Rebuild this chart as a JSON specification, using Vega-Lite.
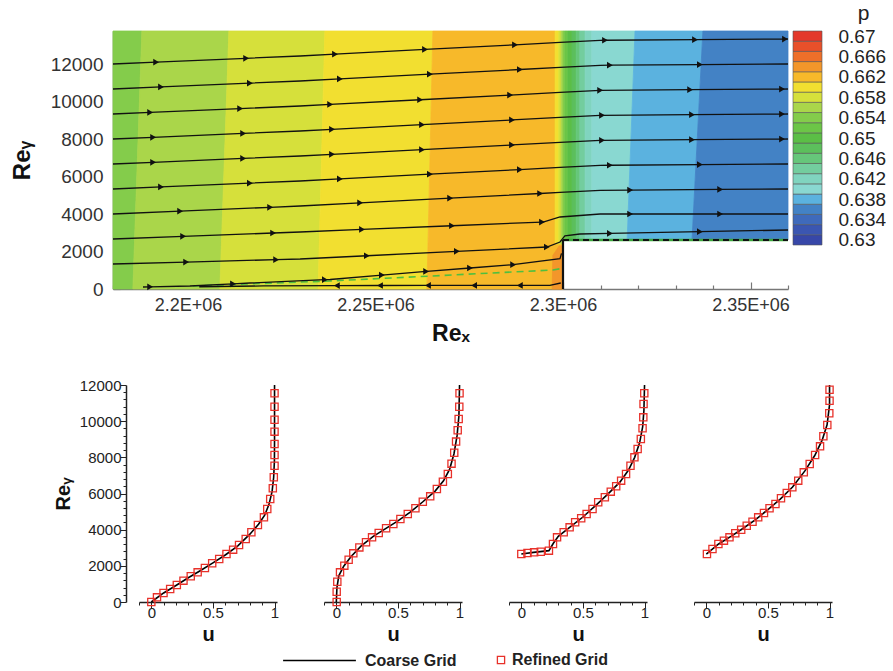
{
"$schema": "https://vega.github.io/schema/vega-lite/v6.json",
"padding": {"left": 10, "top": 2, "right": 0, "bottom": 0},
"config": {"font": "Liberation Sans", "view": {"stroke": null}, "axis": {"labelFont": "Liberation Sans", "titleFont": "Liberation Sans", "labelOverlap": false, "labelFlush": false, "grid": false}, "legend": {"labelFont": "Liberation Sans"}},
"datasets": {
"bands": [
{"b":"b1","lv":0.654,"y":0,"xl":2180000,"xr":2185300},{"b":"b1","lv":0.654,"y":13760,"xl":2180000,"xr":2187700},
{"b":"b2","lv":0.656,"y":0,"xl":2185300,"xr":2208500},{"b":"b2","lv":0.656,"y":13760,"xl":2187700,"xr":2210900},
{"b":"b3","lv":0.658,"y":0,"xl":2208500,"xr":2234700},{"b":"b3","lv":0.658,"y":13760,"xl":2210900,"xr":2236500},
{"b":"b4","lv":0.66,"y":0,"xl":2234700,"xr":2263700},{"b":"b4","lv":0.66,"y":13760,"xl":2236500,"xr":2265300},
{"b":"b5","lv":0.662,"y":0,"xl":2263700,"xr":2300000},{"b":"b5","lv":0.662,"y":2400,"xl":2264000,"xr":2300000},{"b":"b5","lv":0.662,"y":2401,"xl":2264000,"xr":2297900},{"b":"b5","lv":0.662,"y":13760,"xl":2265300,"xr":2297900},
{"b":"b6","lv":0.664,"y":0,"xl":2297100,"xr":2300000},{"b":"b6","lv":0.664,"y":1800,"xl":2297300,"xr":2300000},{"b":"b6","lv":0.664,"y":2300,"xl":2299000,"xr":2300000},
{"b":"t1","lv":0.66,"y":2400,"xl":2297900,"xr":2298900},{"b":"t1","lv":0.66,"y":13760,"xl":2297900,"xr":2298900},
{"b":"t2","lv":0.658,"y":2400,"xl":2298900,"xr":2299500},{"b":"t2","lv":0.658,"y":13760,"xl":2298900,"xr":2299500},
{"b":"t3","lv":0.656,"y":2400,"xl":2299500,"xr":2300000},{"b":"t3","lv":0.656,"y":13760,"xl":2299500,"xr":2300000},
{"b":"t4","lv":0.654,"y":2613,"xl":2300000,"xr":2300500},{"b":"t4","lv":0.654,"y":13760,"xl":2300000,"xr":2300500},
{"b":"t5","lv":0.652,"y":2613,"xl":2300500,"xr":2301300},{"b":"t5","lv":0.652,"y":13760,"xl":2300500,"xr":2301300},
{"b":"t6","lv":0.65,"y":2613,"xl":2301300,"xr":2302400},{"b":"t6","lv":0.65,"y":13760,"xl":2301300,"xr":2302400},
{"b":"t7","lv":0.648,"y":2613,"xl":2302400,"xr":2303500},{"b":"t7","lv":0.648,"y":13760,"xl":2302400,"xr":2303500},
{"b":"t8","lv":0.646,"y":2613,"xl":2303500,"xr":2304500},{"b":"t8","lv":0.646,"y":13760,"xl":2303500,"xr":2304500},
{"b":"t9","lv":0.644,"y":2613,"xl":2304500,"xr":2305900},{"b":"t9","lv":0.644,"y":13760,"xl":2304500,"xr":2305900},
{"b":"t10","lv":0.642,"y":2613,"xl":2305900,"xr":2307700},{"b":"t10","lv":0.642,"y":13760,"xl":2305900,"xr":2307700},
{"b":"r1","lv":0.64,"y":2613,"xl":2307700,"xr":2317100},{"b":"r1","lv":0.64,"y":13760,"xl":2307700,"xr":2319200},
{"b":"r2","lv":0.638,"y":2613,"xl":2317100,"xr":2334400},{"b":"r2","lv":0.638,"y":13760,"xl":2319200,"xr":2337300},
{"b":"r3","lv":0.636,"y":2613,"xl":2334400,"xr":2360000},{"b":"r3","lv":0.636,"y":13760,"xl":2337300,"xr":2360000}
],
"cbar": [
{"lv":0.63,"lo":0.629,"hi":0.631},{"lv":0.632,"lo":0.631,"hi":0.633},{"lv":0.634,"lo":0.633,"hi":0.635},{"lv":0.636,"lo":0.635,"hi":0.637},{"lv":0.638,"lo":0.637,"hi":0.639},{"lv":0.64,"lo":0.639,"hi":0.641},{"lv":0.642,"lo":0.641,"hi":0.643},{"lv":0.644,"lo":0.643,"hi":0.645},{"lv":0.646,"lo":0.645,"hi":0.647},{"lv":0.648,"lo":0.647,"hi":0.649},{"lv":0.65,"lo":0.649,"hi":0.651},{"lv":0.652,"lo":0.651,"hi":0.653},{"lv":0.654,"lo":0.653,"hi":0.655},{"lv":0.656,"lo":0.655,"hi":0.657},{"lv":0.658,"lo":0.657,"hi":0.659},{"lv":0.66,"lo":0.659,"hi":0.661},{"lv":0.662,"lo":0.661,"hi":0.663},{"lv":0.664,"lo":0.663,"hi":0.665},{"lv":0.666,"lo":0.665,"hi":0.667},{"lv":0.668,"lo":0.667,"hi":0.669},{"lv":0.67,"lo":0.669,"hi":0.671}
],
"zl": [{"x":2201300,"y":160},{"x":2237900,"y":427},{"x":2297300,"y":1013},{"x":2299300,"y":1080}],
"step": [{"k":"w","x":2300000,"x2":2300000,"y":0,"y2":2613},{"k":"t","x":2300000,"x2":2360000,"y":2613,"y2":2613}],
"sl": [
{"s":1,"x":2180000,"y":12000},{"s":1,"x":2191500,"y":12098,"a":1,"d":"f"},{"s":1,"x":2215500,"y":12304,"a":1,"d":"f"},{"s":1,"x":2229900,"y":12427},{"s":1,"x":2239200,"y":12524,"a":1,"d":"f"},{"s":1,"x":2263200,"y":12775,"a":1,"d":"f"},{"s":1,"x":2287200,"y":13025,"a":1,"d":"f"},{"s":1,"x":2299200,"y":13150},{"s":1,"x":2309900,"y":13264},{"s":1,"x":2311200,"y":13266,"a":1,"d":"f"},{"s":1,"x":2335200,"y":13299,"a":1,"d":"f"},{"s":1,"x":2359200,"y":13332,"a":1,"d":"f"},{"s":1,"x":2360000,"y":13333},
{"s":2,"x":2180000,"y":10667},{"s":2,"x":2192800,"y":10777,"a":1,"d":"f"},{"s":2,"x":2216500,"y":10980,"a":1,"d":"f"},{"s":2,"x":2229900,"y":11094},{"s":2,"x":2240500,"y":11205,"a":1,"d":"f"},{"s":2,"x":2264500,"y":11456,"a":1,"d":"f"},{"s":2,"x":2288500,"y":11706,"a":1,"d":"f"},{"s":2,"x":2299200,"y":11817},{"s":2,"x":2309900,"y":11931},{"s":2,"x":2312500,"y":11935,"a":1,"d":"f"},{"s":2,"x":2336500,"y":11968,"a":1,"d":"f"},{"s":2,"x":2360000,"y":12000},
{"s":3,"x":2180000,"y":9333},{"s":3,"x":2189900,"y":9417,"a":1,"d":"f"},{"s":3,"x":2213900,"y":9623,"a":1,"d":"f"},{"s":3,"x":2229900,"y":9760},{"s":3,"x":2237900,"y":9843,"a":1,"d":"f"},{"s":3,"x":2261900,"y":10094,"a":1,"d":"f"},{"s":3,"x":2285900,"y":10344,"a":1,"d":"f"},{"s":3,"x":2299200,"y":10483},{"s":3,"x":2309900,"y":10597,"a":1,"d":"f"},{"s":3,"x":2333900,"y":10630,"a":1,"d":"f"},{"s":3,"x":2358400,"y":10664,"a":1,"d":"f"},{"s":3,"x":2360000,"y":10666},
{"s":4,"x":2180000,"y":8000},{"s":4,"x":2190700,"y":8091,"a":1,"d":"f"},{"s":4,"x":2214700,"y":8297,"a":1,"d":"f"},{"s":4,"x":2229900,"y":8427},{"s":4,"x":2238400,"y":8516,"a":1,"d":"f"},{"s":4,"x":2262400,"y":8766,"a":1,"d":"f"},{"s":4,"x":2286400,"y":9017,"a":1,"d":"f"},{"s":4,"x":2299200,"y":9150},{"s":4,"x":2309900,"y":9264},{"s":4,"x":2310400,"y":9265,"a":1,"d":"f"},{"s":4,"x":2334400,"y":9298,"a":1,"d":"f"},{"s":4,"x":2358400,"y":9331,"a":1,"d":"f"},{"s":4,"x":2360000,"y":9333},
{"s":5,"x":2180000,"y":6667},{"s":5,"x":2190700,"y":6758,"a":1,"d":"f"},{"s":5,"x":2214700,"y":6964,"a":1,"d":"f"},{"s":5,"x":2229900,"y":7094},{"s":5,"x":2238400,"y":7183,"a":1,"d":"f"},{"s":5,"x":2262400,"y":7433,"a":1,"d":"f"},{"s":5,"x":2286400,"y":7684,"a":1,"d":"f"},{"s":5,"x":2299200,"y":7817},{"s":5,"x":2309900,"y":7931},{"s":5,"x":2310400,"y":7932,"a":1,"d":"f"},{"s":5,"x":2334400,"y":7965,"a":1,"d":"f"},{"s":5,"x":2358400,"y":7998,"a":1,"d":"f"},{"s":5,"x":2360000,"y":8000},
{"s":6,"x":2180000,"y":5333},{"s":6,"x":2192800,"y":5443,"a":1,"d":"f"},{"s":6,"x":2216500,"y":5646,"a":1,"d":"f"},{"s":6,"x":2229900,"y":5760},{"s":6,"x":2240500,"y":5871,"a":1,"d":"f"},{"s":6,"x":2264500,"y":6122,"a":1,"d":"f"},{"s":6,"x":2288500,"y":6372,"a":1,"d":"f"},{"s":6,"x":2299200,"y":6483},{"s":6,"x":2309900,"y":6597},{"s":6,"x":2312500,"y":6601,"a":1,"d":"f"},{"s":6,"x":2336500,"y":6634,"a":1,"d":"f"},{"s":6,"x":2360000,"y":6666},
{"s":7,"x":2180000,"y":4000},{"s":7,"x":2197900,"y":4153,"a":1,"d":"f"},{"s":7,"x":2221900,"y":4358,"a":1,"d":"f"},{"s":7,"x":2229900,"y":4427},{"s":7,"x":2245900,"y":4594,"a":1,"d":"f"},{"s":7,"x":2269900,"y":4844,"a":1,"d":"f"},{"s":7,"x":2293900,"y":5094,"a":1,"d":"f"},{"s":7,"x":2299200,"y":5150},{"s":7,"x":2309900,"y":5264},{"s":7,"x":2317900,"y":5275,"a":1,"d":"f"},{"s":7,"x":2341900,"y":5308,"a":1,"d":"f"},{"s":7,"x":2360000,"y":5333},
{"s":8,"x":2180000,"y":2667},{"s":8,"x":2198700,"y":2807,"a":1,"d":"f"},{"s":8,"x":2222700,"y":2986,"a":1,"d":"f"},{"s":8,"x":2229900,"y":3040},{"s":8,"x":2246400,"y":3176,"a":1,"d":"f"},{"s":8,"x":2270400,"y":3373,"a":1,"d":"f"},{"s":8,"x":2294400,"y":3571,"a":1,"d":"f"},{"s":8,"x":2294700,"y":3573},{"s":8,"x":2299200,"y":3840},{"s":8,"x":2309900,"y":4000},{"s":8,"x":2317900,"y":4000,"a":1,"d":"f"},{"s":8,"x":2341900,"y":4000,"a":1,"d":"f"},{"s":8,"x":2360000,"y":4000},
{"s":9,"x":2180000,"y":1333},{"s":9,"x":2199500,"y":1437,"a":1,"d":"f"},{"s":9,"x":2223500,"y":1566,"a":1,"d":"f"},{"s":9,"x":2229900,"y":1600},{"s":9,"x":2247700,"y":1774,"a":1,"d":"f"},{"s":9,"x":2271700,"y":2007,"a":1,"d":"f"},{"s":9,"x":2295700,"y":2240,"a":1,"d":"f"},{"s":9,"x":2299200,"y":2507},{"s":9,"x":2300500,"y":2830},{"s":9,"x":2304500,"y":2933},{"s":9,"x":2312500,"y":2964,"a":1,"d":"f"},{"s":9,"x":2336500,"y":3056,"a":1,"d":"f"},{"s":9,"x":2360000,"y":3147},
{"s":10,"x":2188000,"y":107},{"s":10,"x":2189900,"y":115,"a":1,"d":"f"},{"s":10,"x":2200500,"y":160},{"s":10,"x":2212000,"y":275,"a":1,"d":"f"},{"s":10,"x":2216500,"y":320},{"s":10,"x":2236500,"y":495,"a":1,"d":"f"},{"s":10,"x":2237900,"y":507},{"s":10,"x":2251700,"y":741,"a":1,"d":"f"},{"s":10,"x":2263500,"y":940,"a":1,"d":"f"},{"s":10,"x":2263700,"y":944},{"s":10,"x":2275200,"y":1120,"a":1,"d":"f"},{"s":10,"x":2286700,"y":1296,"a":1,"d":"f"},{"s":10,"x":2299200,"y":1616},{"s":10,"x":2299600,"y":1900},
{"s":11,"x":2203000,"y":120},{"s":11,"x":2220000,"y":165},{"s":11,"x":2239700,"y":185,"a":1,"d":"r"},{"s":11,"x":2251200,"y":187,"a":1,"d":"r"},{"s":11,"x":2264000,"y":189,"a":1,"d":"r"},{"s":11,"x":2276300,"y":190,"a":1,"d":"r"},{"s":11,"x":2288500,"y":193,"a":1,"d":"r"},{"s":11,"x":2296500,"y":195},{"s":11,"x":2299400,"y":320}
],
"prof": [
{"p":1,"s":"Coarse Grid","u":0,"y":0},{"p":1,"s":"Coarse Grid","u":0.1,"y":500},{"p":1,"s":"Coarse Grid","u":0.2,"y":910},{"p":1,"s":"Coarse Grid","u":0.3,"y":1340},{"p":1,"s":"Coarse Grid","u":0.4,"y":1740},{"p":1,"s":"Coarse Grid","u":0.5,"y":2165},{"p":1,"s":"Coarse Grid","u":0.6,"y":2600},{"p":1,"s":"Coarse Grid","u":0.7,"y":3090},{"p":1,"s":"Coarse Grid","u":0.8,"y":3750},{"p":1,"s":"Coarse Grid","u":0.87,"y":4300},{"p":1,"s":"Coarse Grid","u":0.92,"y":4800},{"p":1,"s":"Coarse Grid","u":0.955,"y":5400},{"p":1,"s":"Coarse Grid","u":0.98,"y":6100},{"p":1,"s":"Coarse Grid","u":0.993,"y":6900},{"p":1,"s":"Coarse Grid","u":0.999,"y":7800},{"p":1,"s":"Coarse Grid","u":1,"y":9000},{"p":1,"s":"Coarse Grid","u":1,"y":12000},
{"p":1,"s":"Refined Grid","u":0,"y":0},{"p":1,"s":"Refined Grid","u":0.046,"y":258},{"p":1,"s":"Refined Grid","u":0.099,"y":498},{"p":1,"s":"Refined Grid","u":0.153,"y":719},{"p":1,"s":"Refined Grid","u":0.207,"y":940},{"p":1,"s":"Refined Grid","u":0.261,"y":1180},{"p":1,"s":"Refined Grid","u":0.32,"y":1420},{"p":1,"s":"Refined Grid","u":0.376,"y":1640},{"p":1,"s":"Refined Grid","u":0.435,"y":1880},{"p":1,"s":"Refined Grid","u":0.494,"y":2140},{"p":1,"s":"Refined Grid","u":0.551,"y":2378},{"p":1,"s":"Refined Grid","u":0.61,"y":2654},{"p":1,"s":"Refined Grid","u":0.664,"y":2894},{"p":1,"s":"Refined Grid","u":0.712,"y":3152},{"p":1,"s":"Refined Grid","u":0.766,"y":3484},{"p":1,"s":"Refined Grid","u":0.812,"y":3853},{"p":1,"s":"Refined Grid","u":0.865,"y":4258},{"p":1,"s":"Refined Grid","u":0.914,"y":4682},{"p":1,"s":"Refined Grid","u":0.941,"y":5143},{"p":1,"s":"Refined Grid","u":0.965,"y":5696},{"p":1,"s":"Refined Grid","u":0.986,"y":6287},{"p":1,"s":"Refined Grid","u":0.994,"y":6895},{"p":1,"s":"Refined Grid","u":1,"y":7537},{"p":1,"s":"Refined Grid","u":1,"y":8129},{"p":1,"s":"Refined Grid","u":1,"y":8737},{"p":1,"s":"Refined Grid","u":1,"y":9420},{"p":1,"s":"Refined Grid","u":1,"y":10082},{"p":1,"s":"Refined Grid","u":1,"y":10800},{"p":1,"s":"Refined Grid","u":1,"y":11540},
{"p":2,"s":"Coarse Grid","u":0,"y":0},{"p":2,"s":"Coarse Grid","u":0.005,"y":800},{"p":2,"s":"Coarse Grid","u":0.02,"y":1450},{"p":2,"s":"Coarse Grid","u":0.06,"y":1980},{"p":2,"s":"Coarse Grid","u":0.12,"y":2520},{"p":2,"s":"Coarse Grid","u":0.2,"y":3090},{"p":2,"s":"Coarse Grid","u":0.3,"y":3630},{"p":2,"s":"Coarse Grid","u":0.4,"y":4060},{"p":2,"s":"Coarse Grid","u":0.5,"y":4490},{"p":2,"s":"Coarse Grid","u":0.6,"y":4970},{"p":2,"s":"Coarse Grid","u":0.7,"y":5530},{"p":2,"s":"Coarse Grid","u":0.8,"y":6120},{"p":2,"s":"Coarse Grid","u":0.87,"y":6700},{"p":2,"s":"Coarse Grid","u":0.92,"y":7350},{"p":2,"s":"Coarse Grid","u":0.955,"y":8200},{"p":2,"s":"Coarse Grid","u":0.98,"y":9200},{"p":2,"s":"Coarse Grid","u":0.995,"y":10300},{"p":2,"s":"Coarse Grid","u":1,"y":12000},
{"p":2,"s":"Refined Grid","u":0.003,"y":0},{"p":2,"s":"Refined Grid","u":0.003,"y":570},{"p":2,"s":"Refined Grid","u":0.008,"y":1120},{"p":2,"s":"Refined Grid","u":0.03,"y":1640},{"p":2,"s":"Refined Grid","u":0.065,"y":2010},{"p":2,"s":"Refined Grid","u":0.1,"y":2340},{"p":2,"s":"Refined Grid","u":0.138,"y":2690},{"p":2,"s":"Refined Grid","u":0.187,"y":3020},{"p":2,"s":"Refined Grid","u":0.241,"y":3300},{"p":2,"s":"Refined Grid","u":0.29,"y":3576},{"p":2,"s":"Refined Grid","u":0.344,"y":3816},{"p":2,"s":"Refined Grid","u":0.404,"y":4074},{"p":2,"s":"Refined Grid","u":0.463,"y":4313},{"p":2,"s":"Refined Grid","u":0.52,"y":4590},{"p":2,"s":"Refined Grid","u":0.58,"y":4866},{"p":2,"s":"Refined Grid","u":0.642,"y":5180},{"p":2,"s":"Refined Grid","u":0.702,"y":5548},{"p":2,"s":"Refined Grid","u":0.762,"y":5843},{"p":2,"s":"Refined Grid","u":0.816,"y":6249},{"p":2,"s":"Refined Grid","u":0.865,"y":6653},{"p":2,"s":"Refined Grid","u":0.905,"y":7078},{"p":2,"s":"Refined Grid","u":0.935,"y":7650},{"p":2,"s":"Refined Grid","u":0.957,"y":8250},{"p":2,"s":"Refined Grid","u":0.972,"y":8870},{"p":2,"s":"Refined Grid","u":0.985,"y":9500},{"p":2,"s":"Refined Grid","u":0.993,"y":10120},{"p":2,"s":"Refined Grid","u":0.998,"y":10800},{"p":2,"s":"Refined Grid","u":1,"y":11540},
{"p":3,"s":"Coarse Grid","u":0,"y":2654},{"p":3,"s":"Coarse Grid","u":0.1,"y":2745},{"p":3,"s":"Coarse Grid","u":0.224,"y":2840},{"p":3,"s":"Coarse Grid","u":0.26,"y":3250},{"p":3,"s":"Coarse Grid","u":0.3,"y":3630},{"p":3,"s":"Coarse Grid","u":0.4,"y":4170},{"p":3,"s":"Coarse Grid","u":0.5,"y":4700},{"p":3,"s":"Coarse Grid","u":0.6,"y":5320},{"p":3,"s":"Coarse Grid","u":0.7,"y":5950},{"p":3,"s":"Coarse Grid","u":0.8,"y":6630},{"p":3,"s":"Coarse Grid","u":0.87,"y":7300},{"p":3,"s":"Coarse Grid","u":0.92,"y":8000},{"p":3,"s":"Coarse Grid","u":0.96,"y":8800},{"p":3,"s":"Coarse Grid","u":0.985,"y":9700},{"p":3,"s":"Coarse Grid","u":0.995,"y":10600},{"p":3,"s":"Coarse Grid","u":1,"y":12000},
{"p":3,"s":"Refined Grid","u":0,"y":2654},{"p":3,"s":"Refined Grid","u":0.05,"y":2710},{"p":3,"s":"Refined Grid","u":0.104,"y":2746},{"p":3,"s":"Refined Grid","u":0.158,"y":2783},{"p":3,"s":"Refined Grid","u":0.224,"y":2839},{"p":3,"s":"Refined Grid","u":0.257,"y":3210},{"p":3,"s":"Refined Grid","u":0.29,"y":3576},{"p":3,"s":"Refined Grid","u":0.344,"y":3853},{"p":3,"s":"Refined Grid","u":0.392,"y":4129},{"p":3,"s":"Refined Grid","u":0.437,"y":4406},{"p":3,"s":"Refined Grid","u":0.486,"y":4627},{"p":3,"s":"Refined Grid","u":0.53,"y":4866},{"p":3,"s":"Refined Grid","u":0.578,"y":5143},{"p":3,"s":"Refined Grid","u":0.624,"y":5512},{"p":3,"s":"Refined Grid","u":0.678,"y":5790},{"p":3,"s":"Refined Grid","u":0.726,"y":6102},{"p":3,"s":"Refined Grid","u":0.77,"y":6400},{"p":3,"s":"Refined Grid","u":0.81,"y":6710},{"p":3,"s":"Refined Grid","u":0.85,"y":7078},{"p":3,"s":"Refined Grid","u":0.886,"y":7537},{"p":3,"s":"Refined Grid","u":0.918,"y":8000},{"p":3,"s":"Refined Grid","u":0.944,"y":8461},{"p":3,"s":"Refined Grid","u":0.97,"y":9014},{"p":3,"s":"Refined Grid","u":0.984,"y":9604},{"p":3,"s":"Refined Grid","u":0.99,"y":10212},{"p":3,"s":"Refined Grid","u":0.992,"y":10950},{"p":3,"s":"Refined Grid","u":0.998,"y":11540},
{"p":4,"s":"Coarse Grid","u":0,"y":2654},{"p":4,"s":"Coarse Grid","u":0.1,"y":3210},{"p":4,"s":"Coarse Grid","u":0.2,"y":3630},{"p":4,"s":"Coarse Grid","u":0.3,"y":4080},{"p":4,"s":"Coarse Grid","u":0.4,"y":4560},{"p":4,"s":"Coarse Grid","u":0.5,"y":5110},{"p":4,"s":"Coarse Grid","u":0.6,"y":5690},{"p":4,"s":"Coarse Grid","u":0.7,"y":6360},{"p":4,"s":"Coarse Grid","u":0.8,"y":7250},{"p":4,"s":"Coarse Grid","u":0.88,"y":8100},{"p":4,"s":"Coarse Grid","u":0.94,"y":8950},{"p":4,"s":"Coarse Grid","u":0.98,"y":9800},{"p":4,"s":"Coarse Grid","u":1,"y":10900},{"p":4,"s":"Coarse Grid","u":1,"y":12000},
{"p":4,"s":"Refined Grid","u":0.005,"y":2654},{"p":4,"s":"Refined Grid","u":0.05,"y":2931},{"p":4,"s":"Refined Grid","u":0.098,"y":3207},{"p":4,"s":"Refined Grid","u":0.143,"y":3392},{"p":4,"s":"Refined Grid","u":0.188,"y":3576},{"p":4,"s":"Refined Grid","u":0.235,"y":3798},{"p":4,"s":"Refined Grid","u":0.283,"y":3999},{"p":4,"s":"Refined Grid","u":0.328,"y":4221},{"p":4,"s":"Refined Grid","u":0.375,"y":4442},{"p":4,"s":"Refined Grid","u":0.421,"y":4682},{"p":4,"s":"Refined Grid","u":0.468,"y":4922},{"p":4,"s":"Refined Grid","u":0.513,"y":5180},{"p":4,"s":"Refined Grid","u":0.561,"y":5420},{"p":4,"s":"Refined Grid","u":0.606,"y":5733},{"p":4,"s":"Refined Grid","u":0.653,"y":6028},{"p":4,"s":"Refined Grid","u":0.698,"y":6341},{"p":4,"s":"Refined Grid","u":0.746,"y":6710},{"p":4,"s":"Refined Grid","u":0.791,"y":7170},{"p":4,"s":"Refined Grid","u":0.839,"y":7631},{"p":4,"s":"Refined Grid","u":0.883,"y":8129},{"p":4,"s":"Refined Grid","u":0.923,"y":8608},{"p":4,"s":"Refined Grid","u":0.95,"y":9162},{"p":4,"s":"Refined Grid","u":0.982,"y":9788},{"p":4,"s":"Refined Grid","u":0.998,"y":10435},{"p":4,"s":"Refined Grid","u":1,"y":11132},{"p":4,"s":"Refined Grid","u":1,"y":11740}
]
},
"resolve": {"scale": {"color": "independent", "shape": "independent"}, "legend": {"color": "independent", "shape": "independent"}},
"columns": 1,
"align": "none",
"spacing": 33,
"concat": [
{"bounds": "flush", "spacing": 5, "hconcat": [
 {"width": 17, "height": 258, "data": {"values": []}, "mark": "point"},
 {"width": 675, "height": 258, "resolve": {"axis": {"x": "independent", "y": "independent"}}, "layer": [
  {"layer": [
  {"data": {"name": "bands"}, "mark": {"type": "area", "orient": "horizontal", "strokeWidth": 0.8},
   "encoding": {
    "y": {"field": "y", "type": "quantitative", "scale": {"domain": [0, 13760], "nice": false, "zero": false},
      "axis": {"orient": "left", "title": "Reᵧ", "values": [0,2000,4000,6000,8000,10000,12000], "format": "d", "labelOverlap": false, "labelFlush": false, "tickSize": -7, "labelPadding": 17, "labelFontSize": 19, "labelColor": "#333", "titleFontSize": 24, "titleFontWeight": "bold", "titleColor": "#111", "titlePadding": 16, "domainColor": "#777", "domainWidth": 1.5, "tickColor": "#777", "tickWidth": 1.2}},
    "x": {"field": "xl", "type": "quantitative", "scale": {"domain": [2180000, 2360000], "nice": false, "zero": false},
      "axis": {"orient": "bottom", "title": "Reₓ", "values": [2200000,2250000,2300000,2350000], "labelExpr": "format(datum.value/1000000, '.3~g') + 'E+06'", "labelOverlap": false, "labelFlush": false, "tickSize": -7, "labelPadding": 14, "labelFontSize": 18, "labelColor": "#333", "titleFontSize": 23, "titleFontWeight": "bold", "titleColor": "#111", "titlePadding": 8, "domainColor": "#777", "domainWidth": 1.5, "tickColor": "#777", "tickWidth": 1.2}},
    "x2": {"field": "xr"},
    "detail": {"field": "b"},
    "color": {"field": "lv", "type": "nominal", "legend": null, "scale": {"domain": [0.63,0.632,0.634,0.636,0.638,0.64,0.642,0.644,0.646,0.648,0.65,0.652,0.654,0.656,0.658,0.66,0.662,0.664,0.666,0.668,0.67], "range": ["#3747a8","#3b56b1","#3f6abb","#4382c5","#5bb2df","#89d8d1","#80d4bf","#73cd9e","#66c67a","#5cbf5c","#5bbe46","#6cc547","#84cc4b","#aad64a","#d6e03b","#f2df30","#f7b92a","#f3962a","#ee6f29","#e8502a","#e3392b"]}},
    "stroke": {"field": "lv", "type": "nominal", "legend": null, "scale": {"domain": [0.63,0.632,0.634,0.636,0.638,0.64,0.642,0.644,0.646,0.648,0.65,0.652,0.654,0.656,0.658,0.66,0.662,0.664,0.666,0.668,0.67], "range": ["#3747a8","#3b56b1","#3f6abb","#4382c5","#5bb2df","#89d8d1","#80d4bf","#73cd9e","#66c67a","#5cbf5c","#5bbe46","#6cc547","#84cc4b","#aad64a","#d6e03b","#f2df30","#f7b92a","#f3962a","#ee6f29","#e8502a","#e3392b"]}}
   }},
  {"data": {"name": "zl"}, "mark": {"type": "line", "color": "#4fbf3f", "strokeWidth": 1.6, "strokeDash": [7, 5]},
   "encoding": {"x": {"field": "x", "type": "quantitative"}, "y": {"field": "y", "type": "quantitative"}}},
  {"data": {"name": "sl"}, "mark": {"type": "line", "color": "#111", "strokeWidth": 1.3},
   "encoding": {"x": {"field": "x", "type": "quantitative"}, "y": {"field": "y", "type": "quantitative"}, "detail": {"field": "s"}}},
  {"data": {"name": "sl"}, "transform": [{"filter": "datum.a == 1"}], "mark": {"type": "point", "filled": true, "color": "#111", "size": 45, "opacity": 1},
   "encoding": {"x": {"field": "x", "type": "quantitative"}, "y": {"field": "y", "type": "quantitative"}, "shape": {"field": "d", "type": "nominal", "legend": null, "scale": {"domain": ["f", "r"], "range": ["triangle-right", "triangle-left"]}}}},
  {"data": {"name": "step"}, "transform": [{"filter": "datum.k == 't'"}], "mark": {"type": "rule", "color": "#3aa53a", "strokeWidth": 2.5},
   "encoding": {"x": {"field": "x", "type": "quantitative"}, "x2": {"field": "x2"}, "y": {"field": "y", "type": "quantitative"}, "y2": {"field": "y2"}}},
  {"data": {"name": "step"}, "transform": [{"filter": "datum.k == 't'"}], "mark": {"type": "rule", "color": "#111", "strokeWidth": 2, "strokeDash": [6, 4]},
   "encoding": {"x": {"field": "x", "type": "quantitative"}, "x2": {"field": "x2"}, "y": {"field": "y", "type": "quantitative"}, "y2": {"field": "y2"}}},
  {"data": {"name": "step"}, "transform": [{"filter": "datum.k == 'w'"}], "mark": {"type": "rule", "color": "#111", "strokeWidth": 2.2},
   "encoding": {"x": {"field": "x", "type": "quantitative"}, "x2": {"field": "x2"}, "y": {"field": "y", "type": "quantitative"}, "y2": {"field": "y2"}}}
  ]},
  {"data": {"name": "step"}, "transform": [{"filter": "datum.k == 'w'"}], "mark": {"type": "rule", "opacity": 0},
   "encoding": {
    "x": {"field": "x", "type": "quantitative", "axis": {"orient": "bottom", "title": null, "labels": false, "domain": false, "values": [2180000,2190000,2210000,2220000,2230000,2240000,2260000,2270000,2280000,2290000,2310000,2320000,2330000,2340000,2360000], "tickSize": -4, "tickColor": "#777", "tickWidth": 1.2}},
    "y": {"field": "y", "type": "quantitative", "axis": {"orient": "left", "title": null, "labels": false, "domain": false, "values": [400,800,1200,1600,2400,2800,3200,3600,4400,4800,5200,5600,6400,6800,7200,7600,8400,8800,9200,9600,10400,10800,11200,11600,12400,12800,13200,13600], "tickSize": -4, "tickColor": "#777", "tickWidth": 1.2}},
    "y2": {"field": "y2"}
   }}
 ]},
 {"width": 29, "height": 214, "data": {"name": "cbar"}, "mark": {"type": "rect", "stroke": "#555", "strokeWidth": 0.6},
  "encoding": {
   "y": {"field": "lo", "type": "quantitative", "scale": {"domain": [0.629, 0.671], "nice": false, "zero": false},
     "axis": {"orient": "right", "values": [0.63,0.634,0.638,0.642,0.646,0.65,0.654,0.658,0.662,0.666,0.67], "format": ".3~f", "labelOverlap": false, "labelFlush": false, "ticks": false, "domain": false, "labelPadding": 16, "labelFontSize": 19, "labelColor": "#222", "title": "p", "titleAngle": 0, "titleFontSize": 21, "titleFontWeight": "normal", "titleColor": "#222", "titleX": 41, "titleY": -12, "titleAlign": "center", "titleBaseline": "alphabetic"}},
   "y2": {"field": "hi"},
   "color": {"field": "lv", "type": "nominal", "legend": null, "scale": {"domain": [0.63,0.632,0.634,0.636,0.638,0.64,0.642,0.644,0.646,0.648,0.65,0.652,0.654,0.656,0.658,0.66,0.662,0.664,0.666,0.668,0.67], "range": ["#3747a8","#3b56b1","#3f6abb","#4382c5","#5bb2df","#89d8d1","#80d4bf","#73cd9e","#66c67a","#5cbf5c","#5bbe46","#6cc547","#84cc4b","#aad64a","#d6e03b","#f2df30","#f7b92a","#f3962a","#ee6f29","#e8502a","#e3392b"]}}
  }}
]},
{"bounds": "flush", "spacing": 47, "hconcat": [
 {"width": 1, "height": 217, "data": {"values": []}, "mark": "point"},
 {"width": 138, "height": 217, "data": {"name": "prof"}, "transform": [{"filter": "datum.p == 1"}], "resolve": {"axis": {"x": "independent", "y": "independent"}}, "layer": [
  {"transform": [{"filter": "datum.s == 'Coarse Grid'"}], "mark": {"type": "line", "strokeWidth": 1.6},
   "encoding": {
    "x": {"field": "u", "type": "quantitative", "scale": {"domain": [-0.1, 1.02], "nice": false, "zero": false}, "axis": {"orient": "bottom", "title": "u", "values": [0,0.5,1], "format": ".1~f", "labelOverlap": false, "labelFlush": false, "tickSize": 6, "labelPadding": -3, "labelFontSize": 15, "labelColor": "#222", "titleFontSize": 20, "titleFontWeight": "bold", "titleColor": "#111", "titlePadding": 4, "domainColor": "#222", "domainWidth": 1.5, "tickColor": "#222"}},
    "y": {"field": "y", "type": "quantitative", "scale": {"domain": [0, 12000], "nice": false, "zero": false}, "axis": {"orient": "left", "title": "Reᵧ", "values": [0,2000,4000,6000,8000,10000,12000], "format": "d", "labelOverlap": false, "labelFlush": false, "tickSize": 6, "offset": 13, "labelPadding": -1, "labelFontSize": 15, "labelColor": "#222", "titleFontSize": 20, "titleFontWeight": "bold", "titleColor": "#111", "titlePadding": 6, "domainColor": "#222", "domainWidth": 1.5, "tickColor": "#222"}},
    "order": {"field": "y", "type": "quantitative"},
    "color": {"field": "s", "type": "nominal", "scale": {"domain": ["Coarse Grid"], "range": ["#000000"]}, "legend": {"orient": "none", "legendX": 191, "legendY": 238, "title": null, "symbolType": "stroke", "symbolSize": 5300, "symbolStrokeWidth": 1.6, "labelFontSize": 16, "labelFontWeight": "bold", "labelColor": "#222", "labelOffset": 8}}
   }},
  {"transform": [{"filter": "datum.s == 'Refined Grid'"}], "mark": {"type": "point", "filled": false, "color": "#e8312a", "size": 52, "strokeWidth": 1.3, "opacity": 1},
   "encoding": {
    "x": {"field": "u", "type": "quantitative", "axis": {"orient": "bottom", "title": null, "labels": false, "domain": false, "values": [-0.1,0.1,0.2,0.3,0.4,0.6,0.7,0.8,0.9], "tickSize": 3, "tickColor": "#222"}},
    "y": {"field": "y", "type": "quantitative", "axis": {"orient": "left", "title": null, "labels": false, "domain": false, "offset": 13, "values": [400,800,1200,1600,2400,2800,3200,3600,4400,4800,5200,5600,6400,6800,7200,7600,8400,8800,9200,9600,10400,10800,11200,11600], "tickSize": 3, "tickColor": "#222"}},
    "shape": {"field": "s", "type": "nominal", "scale": {"domain": ["Refined Grid"], "range": ["square"]}, "legend": {"orient": "none", "legendX": 402, "legendY": 267, "title": null, "symbolSize": 52, "symbolStrokeWidth": 1.3, "labelFontSize": 16, "labelFontWeight": "bold", "labelColor": "#222", "labelOffset": 3}}
   }}
 ]},
 {"width": 138, "height": 217, "data": {"name": "prof"}, "transform": [{"filter": "datum.p == 2"}], "resolve": {"axis": {"x": "independent"}}, "layer": [
  {"transform": [{"filter": "datum.s == 'Coarse Grid'"}], "mark": {"type": "line", "strokeWidth": 1.6},
   "encoding": {
    "x": {"field": "u", "type": "quantitative", "scale": {"domain": [-0.1, 1.02], "nice": false, "zero": false}, "axis": {"orient": "bottom", "title": "u", "values": [0,0.5,1], "format": ".1~f", "labelOverlap": false, "labelFlush": false, "tickSize": 6, "labelPadding": -3, "labelFontSize": 15, "labelColor": "#222", "titleFontSize": 20, "titleFontWeight": "bold", "titleColor": "#111", "titlePadding": 4, "domainColor": "#222", "domainWidth": 1.5, "tickColor": "#222"}},
    "y": {"field": "y", "type": "quantitative", "scale": {"domain": [0, 12000], "nice": false, "zero": false}, "axis": null},
    "order": {"field": "y", "type": "quantitative"},
    "color": {"field": "s", "type": "nominal", "scale": {"domain": ["Coarse Grid"], "range": ["#000000"]}, "legend": {"orient": "none", "legendX": 191, "legendY": 238, "title": null, "symbolType": "stroke", "symbolSize": 5300, "symbolStrokeWidth": 1.6, "labelFontSize": 16, "labelFontWeight": "bold", "labelColor": "#222", "labelOffset": 8}}
   }},
  {"transform": [{"filter": "datum.s == 'Refined Grid'"}], "mark": {"type": "point", "filled": false, "color": "#e8312a", "size": 52, "strokeWidth": 1.3, "opacity": 1},
   "encoding": {
    "x": {"field": "u", "type": "quantitative", "axis": {"orient": "bottom", "title": null, "labels": false, "domain": false, "values": [-0.1,0.1,0.2,0.3,0.4,0.6,0.7,0.8,0.9], "tickSize": 3, "tickColor": "#222"}},
    "y": {"field": "y", "type": "quantitative", "axis": null},
    "shape": {"field": "s", "type": "nominal", "scale": {"domain": ["Refined Grid"], "range": ["square"]}, "legend": {"orient": "none", "legendX": 402, "legendY": 267, "title": null, "symbolSize": 52, "symbolStrokeWidth": 1.3, "labelFontSize": 16, "labelFontWeight": "bold", "labelColor": "#222", "labelOffset": 3}}
   }}
 ]},
 {"width": 138, "height": 217, "data": {"name": "prof"}, "transform": [{"filter": "datum.p == 3"}], "resolve": {"axis": {"x": "independent"}}, "layer": [
  {"transform": [{"filter": "datum.s == 'Coarse Grid'"}], "mark": {"type": "line", "strokeWidth": 1.6},
   "encoding": {
    "x": {"field": "u", "type": "quantitative", "scale": {"domain": [-0.1, 1.02], "nice": false, "zero": false}, "axis": {"orient": "bottom", "title": "u", "values": [0,0.5,1], "format": ".1~f", "labelOverlap": false, "labelFlush": false, "tickSize": 6, "labelPadding": -3, "labelFontSize": 15, "labelColor": "#222", "titleFontSize": 20, "titleFontWeight": "bold", "titleColor": "#111", "titlePadding": 4, "domainColor": "#222", "domainWidth": 1.5, "tickColor": "#222"}},
    "y": {"field": "y", "type": "quantitative", "scale": {"domain": [0, 12000], "nice": false, "zero": false}, "axis": null},
    "order": {"field": "y", "type": "quantitative"},
    "color": {"field": "s", "type": "nominal", "scale": {"domain": ["Coarse Grid"], "range": ["#000000"]}, "legend": {"orient": "none", "legendX": 191, "legendY": 238, "title": null, "symbolType": "stroke", "symbolSize": 5300, "symbolStrokeWidth": 1.6, "labelFontSize": 16, "labelFontWeight": "bold", "labelColor": "#222", "labelOffset": 8}}
   }},
  {"transform": [{"filter": "datum.s == 'Refined Grid'"}], "mark": {"type": "point", "filled": false, "color": "#e8312a", "size": 52, "strokeWidth": 1.3, "opacity": 1},
   "encoding": {
    "x": {"field": "u", "type": "quantitative", "axis": {"orient": "bottom", "title": null, "labels": false, "domain": false, "values": [-0.1,0.1,0.2,0.3,0.4,0.6,0.7,0.8,0.9], "tickSize": 3, "tickColor": "#222"}},
    "y": {"field": "y", "type": "quantitative", "axis": null},
    "shape": {"field": "s", "type": "nominal", "scale": {"domain": ["Refined Grid"], "range": ["square"]}, "legend": {"orient": "none", "legendX": 402, "legendY": 267, "title": null, "symbolSize": 52, "symbolStrokeWidth": 1.3, "labelFontSize": 16, "labelFontWeight": "bold", "labelColor": "#222", "labelOffset": 3}}
   }}
 ]},
 {"width": 138, "height": 217, "data": {"name": "prof"}, "transform": [{"filter": "datum.p == 4"}], "resolve": {"axis": {"x": "independent"}}, "layer": [
  {"transform": [{"filter": "datum.s == 'Coarse Grid'"}], "mark": {"type": "line", "strokeWidth": 1.6},
   "encoding": {
    "x": {"field": "u", "type": "quantitative", "scale": {"domain": [-0.1, 1.02], "nice": false, "zero": false}, "axis": {"orient": "bottom", "title": "u", "values": [0,0.5,1], "format": ".1~f", "labelOverlap": false, "labelFlush": false, "tickSize": 6, "labelPadding": -3, "labelFontSize": 15, "labelColor": "#222", "titleFontSize": 20, "titleFontWeight": "bold", "titleColor": "#111", "titlePadding": 4, "domainColor": "#222", "domainWidth": 1.5, "tickColor": "#222"}},
    "y": {"field": "y", "type": "quantitative", "scale": {"domain": [0, 12000], "nice": false, "zero": false}, "axis": null},
    "order": {"field": "y", "type": "quantitative"},
    "color": {"field": "s", "type": "nominal", "scale": {"domain": ["Coarse Grid"], "range": ["#000000"]}, "legend": {"orient": "none", "legendX": 191, "legendY": 238, "title": null, "symbolType": "stroke", "symbolSize": 5300, "symbolStrokeWidth": 1.6, "labelFontSize": 16, "labelFontWeight": "bold", "labelColor": "#222", "labelOffset": 8}}
   }},
  {"transform": [{"filter": "datum.s == 'Refined Grid'"}], "mark": {"type": "point", "filled": false, "color": "#e8312a", "size": 52, "strokeWidth": 1.3, "opacity": 1},
   "encoding": {
    "x": {"field": "u", "type": "quantitative", "axis": {"orient": "bottom", "title": null, "labels": false, "domain": false, "values": [-0.1,0.1,0.2,0.3,0.4,0.6,0.7,0.8,0.9], "tickSize": 3, "tickColor": "#222"}},
    "y": {"field": "y", "type": "quantitative", "axis": null},
    "shape": {"field": "s", "type": "nominal", "scale": {"domain": ["Refined Grid"], "range": ["square"]}, "legend": {"orient": "none", "legendX": 402, "legendY": 267, "title": null, "symbolSize": 52, "symbolStrokeWidth": 1.3, "labelFontSize": 16, "labelFontWeight": "bold", "labelColor": "#222", "labelOffset": 3}}
   }}
 ]}
]}
]
}
